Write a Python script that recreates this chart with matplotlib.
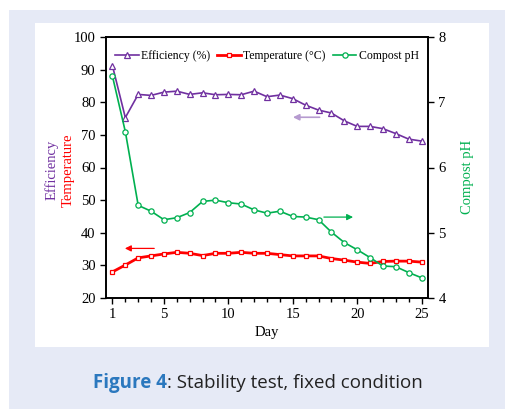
import numpy as np
import matplotlib.pyplot as plt
from matplotlib.patches import Rectangle

# Data
days = np.arange(1, 26)
efficiency = [91.2, 75.3, 82.4, 82.1, 83.1, 83.4, 82.4, 82.9, 82.3, 82.4, 82.3, 83.4, 81.7,
              82.2, 81.1, 79.1, 77.6, 76.7, 74.3, 72.6, 72.6, 71.9, 70.4, 68.7, 68.1]
temperature = [28.0, 30.1, 32.3, 32.9, 33.5, 34.0, 33.7, 33.0, 33.7, 33.7, 34.0, 33.7, 33.7,
               33.3, 32.9, 32.9, 32.9, 32.1, 31.6, 31.0, 30.6, 31.2, 31.3, 31.3, 31.0]
ph = [7.40, 6.55, 5.42, 5.33, 5.20, 5.23, 5.31, 5.48, 5.50, 5.46, 5.44, 5.35, 5.30,
      5.33, 5.25, 5.24, 5.20, 5.01, 4.85, 4.74, 4.62, 4.49, 4.48, 4.39, 4.31]

purple = '#7030A0'
red = '#FF0000'
green = '#00B050'

plt.rcParams['font.family'] = ['Liberation Serif']

fig = plt.figure(figsize=(5.05, 4.09), dpi=100)
fig.patch.set_facecolor('white')
fig.patches.append(Rectangle((9/505, 0), 1, 1 - 10/409, transform=fig.transFigure,
                             facecolor='#e6eaf6', edgecolor='none', zorder=-2))
fig.patches.append(Rectangle((35/505, 1 - 347/409), 454/505, 324/409, transform=fig.transFigure,
                             facecolor='white', edgecolor='none', zorder=-1))

ax = fig.add_axes([106/505, 1 - 298/409, 322/505, 261/409])
ax.set_facecolor('none')
ax2 = ax.twinx()

l1, = ax.plot(days, efficiency, color=purple, lw=1.2, marker='^', ms=3.8,
              mfc='white', mec=purple, mew=0.9, label='Efficiency (%)')
l2, = ax.plot(days, temperature, color=red, lw=2, marker='s', ms=3.4,
              mfc='white', mec=red, mew=0.9, label='Temperature (°C)')
l3, = ax2.plot(days, ph, color=green, lw=1.2, marker='o', ms=3.8,
               mfc='white', mec=green, mew=0.9, label='Compost pH')

ax.set_xlim(0.5, 25.5)
ax.set_ylim(20, 100)
ax2.set_ylim(4, 8)
ax.set_xticks([1, 5, 10, 15, 20, 25])
ax.set_xticks(days, minor=True)
ax.set_yticks(np.arange(20, 101, 10))
ax2.set_yticks([4, 5, 6, 7, 8])

for a in (ax, ax2):
    a.tick_params(which='both', direction='out', labelsize=10.5, length=4, width=1)
    for s in a.spines.values():
        s.set_linewidth(1.2)
ax.tick_params(which='minor', length=3)

ax.set_xlabel('Day', fontsize=10.5, labelpad=3)
fig.text(52/505, 1 - 170/409, 'Efficiency', rotation=90, color=purple, fontsize=10.5,
         ha='center', va='center')
fig.text(68/505, 1 - 170/409, 'Temperature', rotation=90, color=red, fontsize=10.5,
         ha='center', va='center')
fig.text(468/505, 1 - 177/409, 'Compost pH', rotation=90, color=green, fontsize=10.5,
         ha='center', va='center')

# direction arrows
ax.annotate('', xy=(14.8, 75.4), xytext=(17.3, 75.4),
            arrowprops=dict(arrowstyle='-|>', color='#b69bd0', lw=1.2, mutation_scale=9))
ax.annotate('', xy=(1.75, 35.2), xytext=(4.46, 35.2),
            arrowprops=dict(arrowstyle='-|>', color=red, lw=0.9, mutation_scale=9))
ax2.annotate('', xy=(19.9, 5.24), xytext=(17.2, 5.24),
             arrowprops=dict(arrowstyle='-|>', color=green, lw=0.9, mutation_scale=9))

ax.legend(handles=[l1, l2, l3], loc='upper center', ncol=3, frameon=False, fontsize=8.5,
          bbox_to_anchor=(0.5, 1.0), handlelength=2.0, handletextpad=0.2, columnspacing=0.6,
          borderaxespad=0.7)

t1 = fig.text(93/505, 1 - 383/409, 'Figure 4', color='#2b78be', fontsize=13.5, fontweight='bold',
              family='Open Sans', ha='left', va='center')
fig.canvas.draw()
bb = t1.get_window_extent()
fig.text(bb.x1 / fig.bbox.width, 1 - 383/409, ': Stability test, fixed condition', color='#222222',
         fontsize=13.5, family='Open Sans', ha='left', va='center')

fig.savefig('out.png', dpi=100)
